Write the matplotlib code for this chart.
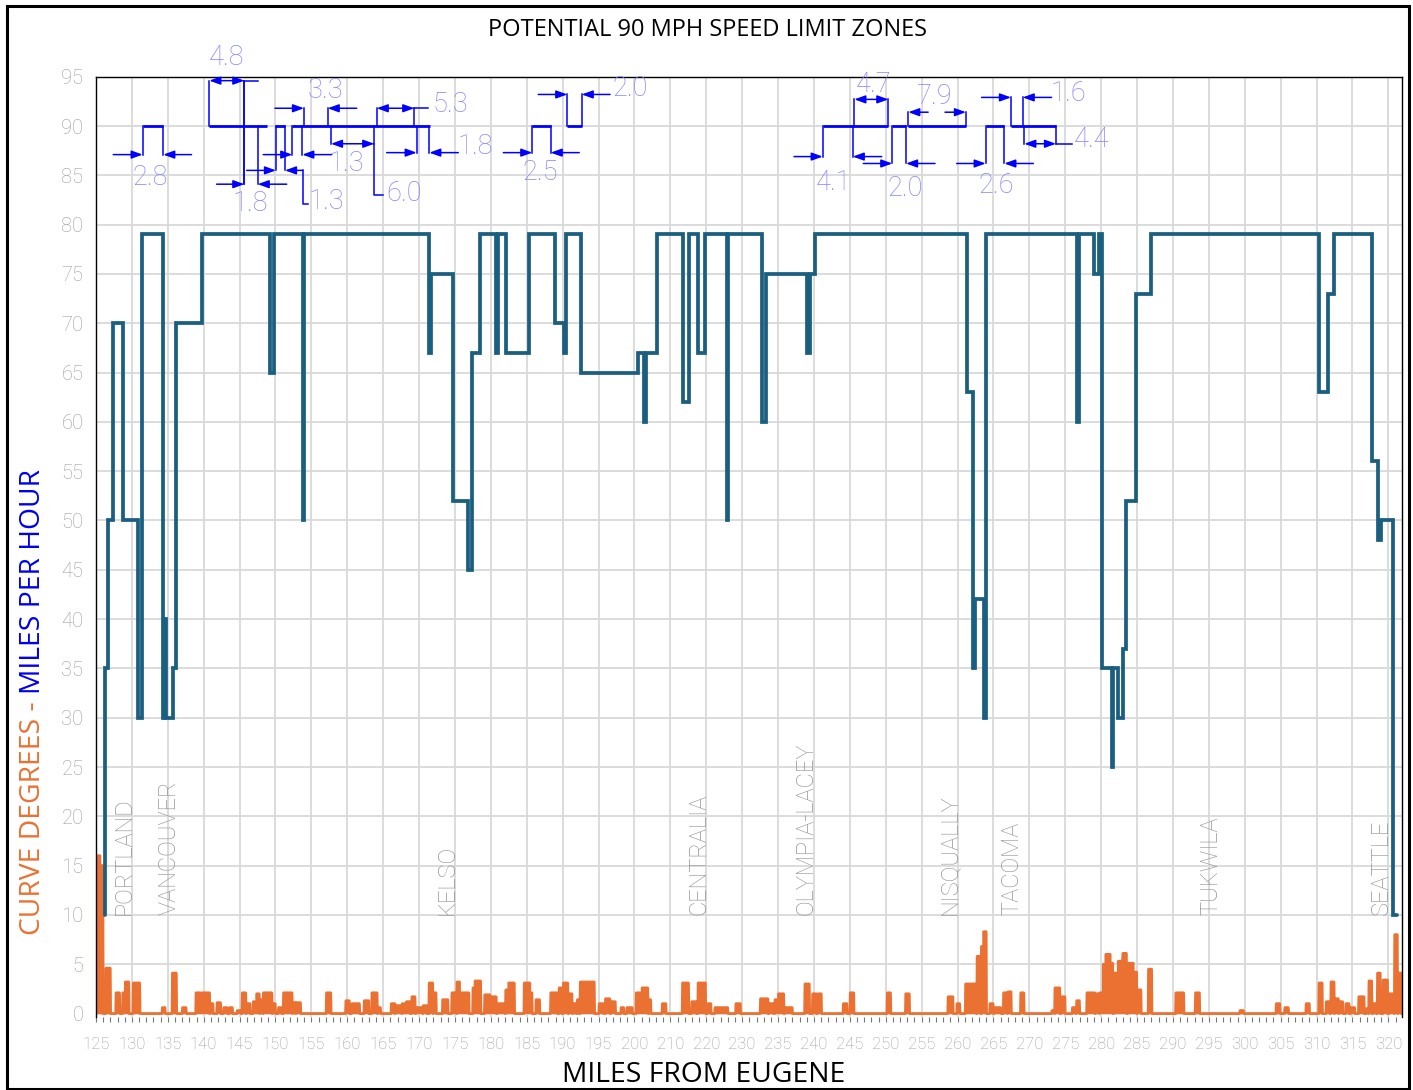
import numpy as np
import matplotlib
matplotlib.use("Agg")
import matplotlib.pyplot as plt
from matplotlib.patches import Rectangle

# ---------------- data ----------------
MILE_LABELS = [125, 130, 135, 140, 145, 150, 155, 160, 165, 170, 175, 180, 185,
               190, 195, 200, 210, 220, 230, 235, 240, 245, 250, 255, 260, 265,
               270, 275, 280, 285, 290, 295, 300, 305, 310, 315, 320]

# speed limit (mph), step function: value starts at x
SPEED_X = [126.25, 126.25, 126.72, 127.32, 128.81, 130.80, 131.45, 134.28, 134.50, 134.75,
           135.77, 136.14, 139.72, 149.24, 149.84, 153.78, 153.95, 171.35, 171.70, 174.77,
           176.77, 177.32, 178.48, 180.75, 180.95, 182.10, 185.36, 188.93, 190.15, 190.45,
           192.55, 200.54, 201.30, 201.60, 203.09, 206.80, 207.64, 208.80, 209.82, 212.90,
           213.05, 217.71, 218.32, 224.00, 224.40, 225.14, 246.27, 247.10, 247.43, 248.65,
           248.95, 261.65, 261.90, 263.95, 264.70, 265.07, 266.50, 266.65, 267.39, 268.09,
           268.46, 269.85, 271.94, 295.38, 296.64, 297.43, 302.67, 303.55, 303.95, 305.69,
           306.16]
SPEED_V = [10, 35, 50, 70, 50, 30, 79, 30, 40, 30,
           35, 70, 79, 65, 79, 50, 79, 67, 75, 52,
           45, 67, 79, 67, 79, 67, 79, 70, 67, 79,
           65, 67, 60, 67, 79, 62, 79, 67, 79, 50,
           79, 60, 75, 67, 75, 79, 63, 35, 42, 30,
           79, 60, 79, 75, 79, 35, 25, 35, 30, 37,
           52, 73, 79, 63, 73, 79, 56, 48, 50, 10,
           10]

# curve degrees: plateaus (start, end, degrees)
CURVE_START = [125.00, 125.55, 126.39, 127.80, 128.74, 129.09, 130.20, 134.25, 135.65, 137.06,
               138.94, 139.52, 139.76, 140.93, 141.87, 142.81, 143.63, 144.68, 145.38, 145.97,
               146.91, 147.38, 147.85, 148.32, 149.61, 150.43, 151.13, 152.42, 152.89, 157.11,
               159.81, 160.63, 162.38, 163.44, 164.26, 166.14, 166.72, 167.66, 168.25, 169.01,
               169.59, 170.59, 171.41, 172.00, 173.29, 174.58, 175.28, 175.63, 177.51, 177.80,
               179.15, 179.85, 180.91, 182.08, 182.49, 184.66, 185.42, 186.30, 188.35, 189.52,
               190.11, 190.87, 191.46, 192.05, 192.46, 195.09, 195.97, 196.74, 198.14, 198.96,
               200.25, 201.07, 202.01, 203.89, 206.70, 207.99, 208.87, 210.22, 211.22, 214.14,
               217.56, 218.75, 219.58, 220.06, 220.95, 223.75, 224.82, 225.53, 229.10, 230.06,
               235.23, 237.79, 243.69, 244.94, 246.13, 247.73, 248.33, 248.63, 249.52, 250.11,
               251.42, 252.02, 253.81, 258.15, 258.57, 259.46, 261.01, 261.60, 263.03, 264.22,
               264.82, 265.29, 265.65, 266.25, 266.78, 267.38, 268.03, 268.74, 269.46, 270.05,
               271.60, 275.41, 278.15, 284.34, 289.40, 290.59, 293.56, 295.35, 296.36, 297.02,
               297.55, 298.15, 299.10, 299.81, 300.89, 301.96, 302.31, 302.91, 303.50, 304.28,
               305.17, 305.89, 306.36]
CURVE_END = [125.55, 125.95, 126.98, 128.27, 129.09, 129.56, 131.08, 134.60, 136.18, 137.53,
             139.52, 139.76, 140.81, 141.28, 142.34, 143.27, 143.98, 145.15, 145.85, 146.44,
             147.38, 147.73, 148.20, 149.49, 149.96, 150.84, 152.30, 152.77, 153.47, 157.69,
             160.27, 161.68, 162.97, 164.14, 164.61, 166.61, 167.54, 168.25, 168.72, 169.42,
             170.47, 171.06, 171.88, 172.35, 173.99, 175.16, 175.63, 176.92, 177.80, 178.56,
             179.85, 180.73, 181.91, 182.49, 183.25, 185.42, 185.71, 186.77, 189.23, 189.82,
             190.70, 191.28, 191.87, 192.28, 194.39, 195.68, 196.56, 197.32, 198.49, 199.67,
             201.07, 201.84, 202.25, 204.36, 207.52, 208.58, 209.87, 210.63, 212.97, 214.73,
             218.57, 219.34, 220.06, 220.77, 221.96, 224.34, 225.29, 226.01, 229.58, 230.53,
             235.65, 238.27, 244.34, 245.29, 247.56, 248.15, 248.63, 248.98, 249.94, 251.01,
             251.90, 252.44, 254.22, 258.45, 259.22, 259.94, 261.42, 261.96, 264.10, 264.70,
             265.29, 265.65, 266.25, 266.60, 267.38, 267.97, 268.51, 269.46, 269.93, 270.53,
             272.02, 276.48, 278.68, 284.81, 289.87, 291.06, 293.98, 295.77, 296.84, 297.43,
             298.03, 298.62, 299.52, 300.29, 301.60, 302.20, 302.67, 303.27, 303.86, 304.87,
             305.77, 306.24, 306.96]
CURVE_DEG = [16.0, 15.0, 4.6, 2.1, 2.1, 3.2, 3.1, 0.6, 4.1, 0.6,
             2.1, 1.8, 2.1, 1.0, 1.1, 0.6, 0.6, 0.3, 2.1, 1.0,
             1.2, 2.0, 1.4, 2.1, 1.0, 0.6, 2.1, 1.1, 1.1, 2.1,
             1.3, 1.0, 1.3, 2.1, 0.6, 1.0, 0.8, 1.0, 1.2, 1.7,
             0.6, 0.8, 3.1, 2.1, 1.4, 2.1, 3.2, 2.1, 2.6, 3.3,
             1.9, 1.7, 1.0, 2.4, 3.1, 3.1, 2.1, 1.4, 2.1, 2.6,
             3.1, 2.0, 1.0, 1.4, 3.2, 1.0, 1.5, 1.2, 0.6, 0.6,
             2.1, 2.6, 1.4, 1.0, 3.1, 1.2, 3.1, 1.0, 0.6, 1.0,
             1.5, 1.0, 1.4, 2.0, 0.6, 3.0, 2.0, 2.0, 1.0, 2.1,
             2.1, 2.0, 1.7, 1.0, 3.0, 5.8, 6.8, 8.3, 1.0, 0.6,
             2.1, 2.2, 2.1, 0.3, 2.6, 1.7, 0.6, 1.3, 2.1, 2.0,
             2.1, 5.0, 6.0, 5.1, 4.1, 5.3, 6.1, 5.1, 4.2, 2.4,
             4.5, 2.1, 2.1, 0.3, 1.0, 0.6, 1.0, 3.1, 1.2, 3.2,
             1.5, 1.2, 1.0, 0.6, 1.7, 0.5, 3.3, 1.0, 4.1, 3.4,
             2.0, 8.0, 4.1]

CITY_NAMES = ["PORTLAND", "VANCOUVER", "KELSO", "CENTRALIA", "OLYMPIA-LACEY",
              "NISQUALLY", "TACOMA", "TUKWILA", "SEATTLE"]
CITY_POS = [129.0, 135.2, 173.9, 208.9, 223.9, 243.9, 252.6, 280.3, 304.0]

# potential 90 mph zones (start, end)
ZONE_START = [131.50, 140.78, 149.93, 152.34, 185.77, 190.64, 226.22, 235.91, 238.13, 248.92, 252.44]
ZONE_END = [134.37, 148.77, 151.32, 171.52, 188.33, 192.65, 235.36, 237.82, 246.17, 251.51, 258.71]

# dimension callouts: label, left edge, right edge, dimension height, kind,
# left tail, right tail, label x, label y
DIM_LABEL = ["2.8", "4.8", "1.8", "1.3", "1.3", "3.3", "6.0", "5.3", "1.8",
             "2.5", "2.0", "4.1", "4.7", "2.0", "7.9", "2.6", "1.6", "4.4"]
DIM_LEFT = [131.50, 140.78, 145.66, 150.07, 152.34, 153.97, 157.73, 164.10, 169.67,
            185.77, 190.64, 226.22, 230.62, 235.91, 238.13, 248.92, 252.44, 254.29]
DIM_RIGHT = [134.37, 145.66, 147.52, 151.32, 153.73, 157.27, 163.76, 169.33, 171.42,
             188.33, 192.65, 230.40, 235.36, 237.82, 246.17, 251.51, 254.07, 258.71]
DIM_Y = [87.1, 94.6, 84.1, 85.5, 87.1, 91.8, 88.2, 91.8, 87.3,
         87.3, 93.2, 86.9, 92.7, 86.2, 91.4, 86.2, 92.9, 88.2]
DIM_KIND = ["in", "both", "in", "in", "in", "in", "both", "both", "in",
            "in", "in", "in", "both", "in", "out", "in", "in", "both"]
DIM_TAIL_L = [127.41, None, 141.80, 145.99, 148.30, 149.93, None, None, 165.49,
              181.73, 186.60, 222.22, None, 231.87, 240.90, 244.87, 248.35, None]
DIM_TAIL_R = [138.30, None, 151.56, 153.78, 157.83, 161.31, None, None, 175.46,
              192.31, 196.60, 234.43, None, 241.86, 243.25, 255.55, 258.10, None]
DIM_TX = [132.52, 143.20, 146.45, 157.10, 159.90, 156.90, 167.90, 174.30, 177.80,
          186.84, 199.40, 227.79, 233.26, 237.68, 241.86, 250.45, 260.42, 263.67]
DIM_TY = [84.8, 96.9, 82.1, 82.3, 86.2, 93.6, 83.2, 92.2, 87.9,
          85.3, 93.8, 84.3, 94.2, 83.7, 93.0, 84.0, 93.3, 88.6]

# leader / extension lines
LEADERS = [
    ([145.66, 145.66], [84.1, 94.6]),
    ([145.66, 147.60], [94.6, 94.6]),
    ([153.78, 153.78, 154.57], [85.5, 82.05, 82.05]),
    ([163.76, 163.76, 165.02], [88.2, 83.0, 83.0]),
    ([169.33, 171.29], [91.8, 91.8]),
    ([258.71, 260.88], [88.2, 88.2]),
]

# ---------------- styling ----------------
SPEED_COLOR = "#1a5f80"
CURVE_COLOR = "#ea7132"
DIM_COLOR = "#0000ff"
DIM_TEXT = "#8585ff"
GRID_COLOR = "#d9d9d9"
TICK_TEXT = "#9c9c9c"
THIN_FONT = dict(family="Roboto", fontweight="light")

W, H = 1413, 1090
fig = plt.figure(figsize=(W / 100, H / 100), dpi=100)

x_lo, x_hi = 125.0, 306.9
y_lo, y_hi = -0.35, 95.0
ax_left, ax_right, ax_top, ax_bot = 96, 1402, 76.7, 1017
ax = fig.add_axes([ax_left / W, 1 - ax_bot / H, (ax_right - ax_left) / W, (ax_bot - ax_top) / H])
ax.set_xlim(x_lo, x_hi)
ax.set_ylim(y_lo, y_hi)

tick_pos = [125 + 5 * i for i in range(len(MILE_LABELS))]
ax.set_xticks(tick_pos)
ax.set_xticklabels([str(v) for v in MILE_LABELS])
ax.set_xticks(np.arange(125, 307, 1), minor=True)
ax.set_yticks(np.arange(0, 96, 5))
ax.grid(True, which="major", color=GRID_COLOR, lw=1.3, zorder=0)
ax.set_axisbelow(True)
ax.tick_params(axis="x", which="both", direction="out", length=3.5, width=0.8,
               color="#777777", pad=11, labelsize=12, labelcolor=TICK_TEXT)
ax.tick_params(axis="y", length=0, pad=9, labelsize=14.5, labelcolor=TICK_TEXT)
for lab in ax.get_xticklabels() + ax.get_yticklabels():
    lab.set_fontfamily("Roboto")
    lab.set_fontweight("light")
for s in ["left", "top", "right"]:
    ax.spines[s].set_color("black")
    ax.spines[s].set_linewidth(1.0)
ax.spines["bottom"].set_visible(False)

# curve degrees polygon built from plateaus
cx, cy = [CURVE_START[0], ], [0.0]
prev_end = None
for s, e, v in zip(CURVE_START, CURVE_END, CURVE_DEG):
    if prev_end is None or s - prev_end > 0.06:
        if prev_end is not None:
            cx.append(prev_end + 0.05)
            cy.append(0.0)
        cx.append(max(s - 0.05, x_lo))
        cy.append(0.0)
    cx.append(s)
    cy.append(v)
    cx.append(e)
    cy.append(v)
    prev_end = e
cx.append(min(prev_end + 0.05, x_hi))
cy.append(0.0)
cx = [x_lo] + cx + [x_hi]
cy = [0.0] + cy + [0.0]
ax.fill_between(cx, 0, cy, color=CURVE_COLOR, lw=0, zorder=2)
ax.plot(cx, cy, color=CURVE_COLOR, lw=2.0, zorder=2, solid_joinstyle="round")

# speed line
ax.plot(SPEED_X, SPEED_V, drawstyle="steps-post", color=SPEED_COLOR, lw=2.7,
        zorder=4, solid_capstyle="round", solid_joinstyle="miter")

# city labels
for name, pos in zip(CITY_NAMES, CITY_POS):
    ax.text(pos, 10.0, name, rotation=90, ha="center", va="bottom", fontsize=17,
            color="#959595", zorder=3, **THIN_FONT)

# 90 mph zones
for s, e in zip(ZONE_START, ZONE_END):
    ax.plot([s, e], [90, 90], color=DIM_COLOR, lw=2.0, zorder=5, solid_capstyle="butt")


def arrow(x_tail, x_tip, y, style="-|>"):
    ax.annotate("", xy=(x_tip, y), xytext=(x_tail, y),
                arrowprops=dict(arrowstyle=style + ",head_length=0.55,head_width=0.2",
                                color=DIM_COLOR, lw=1.1, shrinkA=0, shrinkB=0,
                                mutation_scale=12), zorder=5)


for i in range(len(DIM_LABEL)):
    xl, xr, yd, kind = DIM_LEFT[i], DIM_RIGHT[i], DIM_Y[i], DIM_KIND[i]
    for xv in (xl, xr):
        ax.plot([xv, xv], [90, yd], color=DIM_COLOR, lw=1.1, zorder=5)
    if kind in ("in", "out"):
        arrow(DIM_TAIL_L[i], xl, yd)
        arrow(DIM_TAIL_R[i], xr, yd)
    else:
        arrow(xl, xr, yd, style="<|-|>")
    ax.text(DIM_TX[i], DIM_TY[i], DIM_LABEL[i], ha="center", va="center",
            fontsize=19.5, color=DIM_TEXT, zorder=6, clip_on=False, **THIN_FONT)

for xs, ys in LEADERS:
    ax.plot(xs, ys, color=DIM_COLOR, lw=1.1, zorder=5)

# titles
fig.text(707 / W, 1 - 36 / H, "POTENTIAL 90 MPH SPEED LIMIT ZONES", ha="center",
         va="baseline", fontsize=17, family="Open Sans", color="black")
fig.text(704 / W, 1 - 1082 / H, "MILES FROM EUGENE", ha="center", va="baseline",
         fontsize=20.3, family="Open Sans", color="black")

t1 = fig.text(33 / W, 1 - 935 / H, "CURVE DEGREES - ", rotation=90, ha="center",
              va="bottom", fontsize=20.3, family="Open Sans", color=CURVE_COLOR)
fig.canvas.draw()
bb = t1.get_window_extent(fig.canvas.get_renderer())
fig.text(33 / W, bb.y1 / H, "MILES PER HOUR", rotation=90, ha="center", va="bottom",
         fontsize=20.3, family="Open Sans", color="#0000ee")

# outer frame
fig.patches.append(Rectangle((7 / W, 1 - 1089 / H), 1402 / W, 1083 / H,
                             transform=fig.transFigure, fill=False, ec="black", lw=2.2))

fig.savefig("out.png", dpi=100)
